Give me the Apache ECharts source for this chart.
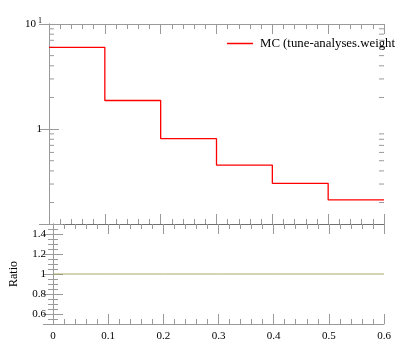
<!DOCTYPE html>
<html>
<head>
<meta charset="utf-8">
<script src="https://cdn.jsdelivr.net/npm/echarts@6/dist/echarts.min.js"></script>
<style>
  html, body { margin: 0; padding: 0; background: #fff; }
  #chart { width: 397px; height: 358px; }
</style>
</head>
<body>
<div id="chart"></div>
<script>
// bin edges (low edge of each bin) and the last upper edge
const binLow = [0, 0.1, 0.2, 0.3, 0.4, 0.5];
const binHigh = 0.6;
// MC histogram values per bin
const mcValues = [6.0, 1.87, 0.81, 0.455, 0.305, 0.212];
// ratio MC / MC per bin
const ratioValues = [1, 1, 1, 1, 1, 1];
// log axis minor ticks
const logMinor = [0.2, 0.3, 0.4, 0.5, 0.6, 0.7, 0.8, 0.9, 2, 3, 4, 5, 6, 7, 8, 9];
const legendName = 'MC (tune-analyses.weight';

const font = "'Liberation Serif', 'DejaVu Serif', serif";
const axisGray = '#9a9a9a';

// step data: each bin starts at its low edge, last point closes at the upper edge
function stepData(vals) {
  let d = binLow.map((x, i) => [x, vals[i]]);
  d.push([binHigh, vals[vals.length - 1]]);
  return d;
}

let chart = echarts.init(document.getElementById('chart'));

function xAx(grid, pos, labels, lineColor) {
  return {
    type: 'value', gridIndex: grid, position: pos,
    min: 0, max: 0.6, interval: 0.1,
    axisLine: { show: true, lineStyle: { color: lineColor || axisGray } },
    axisTick: { show: true, inside: true, length: 10, lineStyle: { color: axisGray } },
    minorTick: { show: true, splitNumber: 5, length: 5, lineStyle: { color: axisGray } },
    splitLine: { show: false },
    axisLabel: { show: labels, margin: 7, color: '#000', fontFamily: font, fontSize: 11,
      showMinLabel: true, showMaxLabel: true },
  };
}

let option = {
  animation: false,
  grid: [
    { left: 49, top: 24, width: 335, height: 200 },
    { left: 49, top: 224, width: 335, height: 100 },
  ],
  legend: {
    left: 227, top: 37, padding: 0,
    itemWidth: 26, itemHeight: 1.5, itemGap: 7,
    icon: 'rect',
    data: [legendName],
    textStyle: { fontFamily: font, fontSize: 12.8, color: '#000', padding: [0, 0, 0, 2] },
  },
  xAxis: [
    xAx(0, 'bottom', false, '#707070'),
    xAx(0, 'top', false),
    xAx(1, 'bottom', true),
    xAx(1, 'top', false, '#707070'),
  ],
  yAxis: [
    {
      type: 'log', gridIndex: 0, position: 'left',
      min: 0.125, max: 10,
      axisLine: { show: true, lineStyle: { color: axisGray } },
      axisTick: { show: true, inside: true, length: 10, lineStyle: { color: axisGray } },
      splitLine: { show: false },
      axisLabel: {
        margin: 7, color: '#000', fontFamily: font, fontSize: 11,
        formatter: function (v) {
          if (Math.abs(v - 10) < 1e-6) return '{b|10}{s|1}';
          if (Math.abs(v - 1) < 1e-6) return '{b|1}';
          return '';
        },
        rich: {
          b: { fontFamily: font, fontSize: 11, color: '#000' },
          s: { fontFamily: font, fontSize: 8, color: '#000', padding: [0, 0, 7, 2] },
        },
      },
    },
    {
      type: 'log', gridIndex: 0, position: 'right',
      min: 0.125, max: 10,
      axisLine: { show: true, lineStyle: { color: axisGray } },
      axisTick: { show: true, inside: true, length: 10, lineStyle: { color: axisGray } },
      splitLine: { show: false },
      axisLabel: { show: false },
    },
    {
      type: 'value', gridIndex: 1, position: 'left',
      min: 0.5, max: 1.5,
      name: 'Ratio', nameLocation: 'middle', nameRotate: 90, nameGap: 33,
      nameTextStyle: { fontFamily: font, fontSize: 12, color: '#000' },
      axisLine: { show: true, lineStyle: { color: axisGray } },
      axisTick: { show: true, inside: true, length: 10, lineStyle: { color: axisGray } },
      minorTick: { show: true, splitNumber: 4, length: 5, lineStyle: { color: axisGray } },
      splitLine: { show: false },
      axisLabel: { margin: 7, color: '#000', fontFamily: font, fontSize: 11,
        showMinLabel: false, showMaxLabel: false },
    },
    {
      type: 'value', gridIndex: 1, position: 'right',
      min: 0.5, max: 1.5,
      axisLine: { show: true, lineStyle: { color: axisGray } },
      axisTick: { show: true, inside: true, length: 10, lineStyle: { color: axisGray } },
      minorTick: { show: true, splitNumber: 4, length: 5, lineStyle: { color: axisGray } },
      splitLine: { show: false },
      axisLabel: { show: false },
    },
  ],
  series: [
    {
      name: legendName,
      type: 'line', step: 'end',
      xAxisIndex: 0, yAxisIndex: 0,
      data: stepData(mcValues),
      symbol: 'none',
      color: '#ff0000',
      lineStyle: { color: '#ff0000', width: 1.3 },
    },
    {
      name: 'ratio',
      type: 'line', step: 'end',
      xAxisIndex: 2, yAxisIndex: 2,
      data: stepData(ratioValues),
      symbol: 'none',
      lineStyle: { color: '#aaa868', width: 1 },
    },
    {
      // log minor ticks on both sides of the upper panel
      type: 'custom',
      xAxisIndex: 0, yAxisIndex: 0,
      silent: true,
      data: logMinor.map(v => [0, v]),
      renderItem: function (params, api) {
        let v = api.value(1);
        let l = api.coord([0, v]);
        let r = api.coord([0.6, v]);
        let st = { stroke: axisGray, lineWidth: 1 };
        return {
          type: 'group',
          children: [
            { type: 'line', shape: { x1: l[0], y1: l[1], x2: l[0] + 5, y2: l[1] }, style: st },
            { type: 'line', shape: { x1: r[0], y1: r[1], x2: r[0] - 5, y2: r[1] }, style: st },
          ],
        };
      },
    },
  ],
};

chart.setOption(option);
</script>
</body>
</html>
